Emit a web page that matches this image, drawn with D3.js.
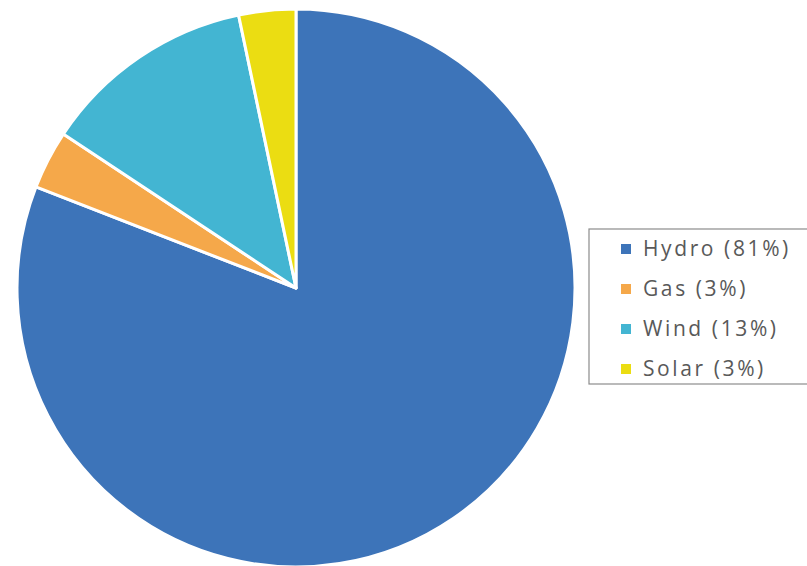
<!DOCTYPE html>
<html>
<head>
<meta charset="utf-8">
<script src="https://cdn.jsdelivr.net/npm/d3@7"></script>
<style>
  body { margin: 0; background: #fff; overflow: hidden; }
</style>
</head>
<body>
<svg id="chart"></svg>
<script>
const categories = ["Hydro", "Gas", "Wind", "Solar"];
const values = [80.9, 3.4, 12.4, 3.3];
const legendLabels = ["Hydro (81%)", "Gas (3%)", "Wind (13%)", "Solar (3%)"];
const colors = ["#3d74b9", "#f5a84a", "#43b5d2", "#ebdd12"];

const width = 807, height = 566;
const cx = 296, cy = 288, radius = 279;

const svg = d3.select("#chart").attr("width", width).attr("height", height);

const data = categories.map((c, i) => ({ name: c, value: values[i], label: legendLabels[i] }));
const color = d3.scaleOrdinal().domain(categories).range(colors);

const pie = d3.pie().value(d => d.value).sort(null);
const arc = d3.arc().innerRadius(0).outerRadius(radius);

svg.append("g")
  .attr("transform", `translate(${cx},${cy})`)
  .selectAll("path")
  .data(pie(data))
  .join("path")
  .attr("d", arc)
  .attr("fill", d => color(d.data.name))
  .attr("stroke", "#fff")
  .attr("stroke-width", 3)
  .attr("stroke-linejoin", "round");

// legend
const legend = svg.append("g").attr("transform", "translate(589,229)");
legend.append("rect")
  .attr("width", 225).attr("height", 155)
  .attr("fill", "#fff").attr("stroke", "#8c8c8c").attr("stroke-width", 1.2);

const rowY = d3.scalePoint().domain(categories).range([20, 140]);
const items = legend.selectAll(".item").data(data).join("g")
  .attr("class", "item")
  .attr("transform", d => `translate(0,${rowY(d.name)})`);
items.append("rect")
  .attr("x", 32).attr("y", -5).attr("width", 10).attr("height", 10)
  .attr("fill", d => color(d.name));
items.append("text")
  .attr("x", 54).attr("y", 1)
  .attr("dominant-baseline", "middle")
  .style("font-family", "'Open Sans', sans-serif")
  .style("font-size", "21px")
  .style("letter-spacing", "2.6px")
  .attr("fill", "#595959")
  .text(d => d.label);
</script>
</body>
</html>
